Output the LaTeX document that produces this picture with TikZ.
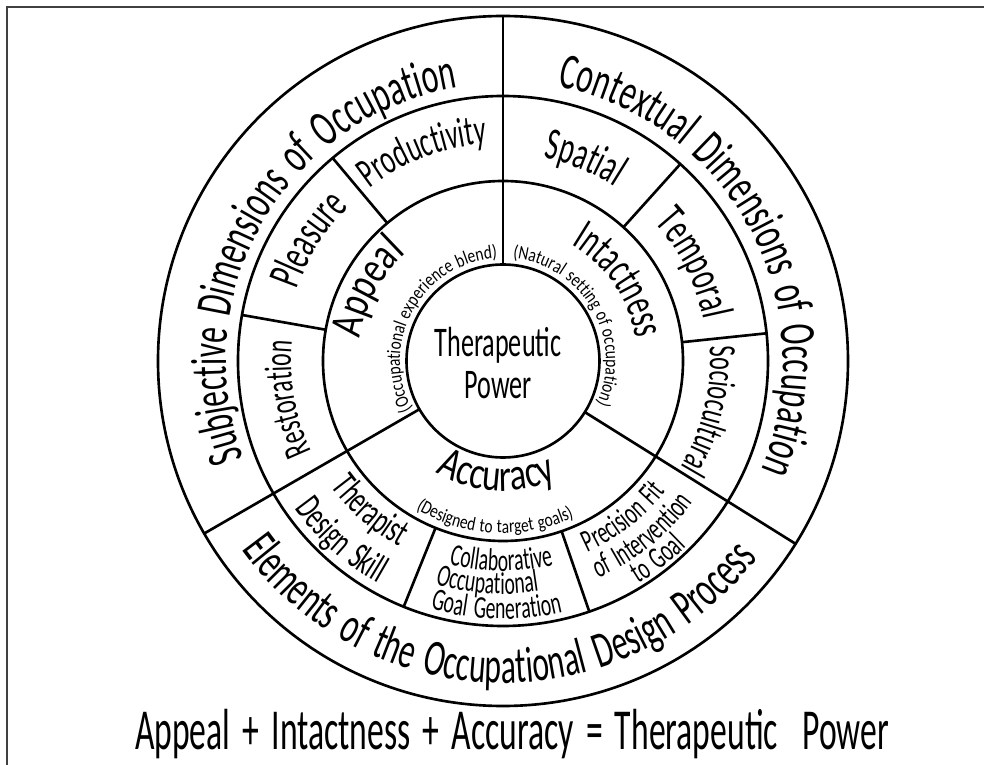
\documentclass[tikz,border=0pt]{standalone}
\usepackage{fontspec}
\usetikzlibrary{decorations.text}

\IfFontExistsTF{FiraSans-Light.otf}{
	\newfontfamily\handfont[FakeStretch=0.6, Scale=0.93, WordSpace=1.6]{FiraSans-Light.otf}
	\newfontfamily\widefont[FakeStretch=0.74, Scale=0.93]{FiraSans-Light.otf}
	\newfontfamily\notefont[FakeStretch=0.78, Scale=0.93, WordSpace=1.3]{FiraSans-Light.otf}
	\newfontfamily\eqfont[FakeStretch=0.56, Scale=0.93, WordSpace=1.6]{FiraSans-Light.otf}
}{
	\newfontfamily\handfont[FakeStretch=0.62, WordSpace=1.6]{Carlito}
	\newfontfamily\widefont[FakeStretch=0.76]{Carlito}
	\newfontfamily\notefont[FakeStretch=0.8, WordSpace=1.3]{Carlito}
	\newfontfamily\eqfont[FakeStretch=0.58, WordSpace=1.6]{Carlito}
}

\newcommand\fouter{\handfont\fontsize{29}{29}\selectfont}
\newcommand\fring{\handfont\fontsize{26}{26}\selectfont}
\newcommand\fwide{\widefont\fontsize{26}{26}\selectfont}
\newcommand\fmid{\handfont\fontsize{24}{24}\selectfont}
\newcommand\fsector{\handfont\fontsize{22}{22}\selectfont}
\newcommand\fsmall{\handfont\fontsize{18}{18}\selectfont}
\newcommand\ftiny{\notefont\fontsize{11}{11}\selectfont}
\newcommand\feq{\eqfont\fontsize{33}{33}\selectfont}

\begin{document}
\begin{tikzpicture}[ink/.style={line width=1.5pt}]
		\newcommand\spoke[3]{ %% argument 1: angle, argument 2: inner radius, argument 3: outer radius
			\draw[ink] (#1:#2) -- (#1:#3);
		}
		\newcommand\cwtext[4]{ %% argument 1: centre angle, argument 2: radius, argument 3: font, argument 4: text (tops outward)
			\path[decorate, decoration={text along path, text align=center, text={|#3|#4}}]
				({#1+80}:#2) arc[start angle={#1+80}, end angle={#1-80}, radius=#2];
		}
		\newcommand\ccwtext[4]{ %% same, tops inward
			\path[decorate, decoration={text along path, text align=center, text={|#3|#4}}]
				({#1-80}:#2) arc[start angle={#1-80}, end angle={#1+80}, radius=#2];
		}

		\useasboundingbox (-10.06,-8.08) rectangle (9.62,7.22);
		\draw[line width=0.8pt, black!75] (-9.92,-8.08) -- (-9.92,7.08) -- (9.62,7.08);

		\draw[ink] (0,0) circle (1.93);
		\draw[ink] (0,0) circle (3.6);
		\draw[ink] (0,0) circle (5.3);
		\draw[ink] (0,0) circle (6.9);

		\spoke{90}{1.93}{6.9}
		\spoke{210}{1.93}{6.9}
		\spoke{328}{1.93}{6.9}
		\spoke{130}{3.6}{5.3}
		\spoke{170}{3.6}{5.3}
		\spoke{248}{3.6}{5.3}
		\spoke{289}{3.6}{5.3}
		\spoke{6}{3.6}{5.3}
		\spoke{48}{3.6}{5.3}

		%% outer ring
		\cwtext{150}{5.54}{\fouter}{Subjective Dimensions of Occupation}
		\cwtext{28}{5.6}{\fouter}{Contextual Dimensions of Occupation}
		\ccwtext{269}{6.44}{\fouter}{Elements of the Occupational Design Process}

		%% middle ring
		\cwtext{111}{4.36}{\fmid}{Productivity}
		\cwtext{68}{4.14}{\fring}{Spatial}
		\cwtext{27}{4.1}{\fring}{Temporal}
		\cwtext{-13.5}{4.14}{\fsector}{Sociocultural}
		\cwtext{190}{4.24}{\fsector}{Restoration}
		\cwtext{148}{4.36}{\fring}{Pleasure}
		\ccwtext{228.5}{4.26}{\fsector}{Therapist}
		\ccwtext{228}{5.1}{\fsector}{Design Skill}
		\ccwtext{269.5}{4.2}{\fsmall}{Collaborative}
		\ccwtext{266}{4.66}{\fsmall}{Occupational}
		\ccwtext{268.5}{5.16}{\fsmall}{Goal Generation}
		\ccwtext{307.6}{4.18}{\fsmall}{Precision Fit}
		\ccwtext{308.5}{4.74}{\fsmall}{of Intervention}
		\ccwtext{308}{5.22}{\fsmall}{to Goal}

		%% inner ring
		\cwtext{151.5}{2.9}{\fwide}{Appeal}
		\cwtext{150.5}{2.06}{\ftiny}{(Occupational experience blend)}
		\cwtext{34.5}{2.7}{\fring}{Intactness}
		\cwtext{30}{2.06}{\ftiny}{(Natural setting of occupation)}
		\ccwtext{266.6}{2.6}{\fwide}{Accuracy}
		\ccwtext{267}{3.44}{\ftiny}{(Designed to target goals)}

		\node[font=\fmid, align=center] (power) at (-0.1,-0.04) {Therapeutic\\Power};
		\node[font=\feq, anchor=base] (equation) at (0.18,-7.78) {Appeal + Intactness + Accuracy = Therapeutic\ \ Power};
	\end{tikzpicture}
\end{document}
